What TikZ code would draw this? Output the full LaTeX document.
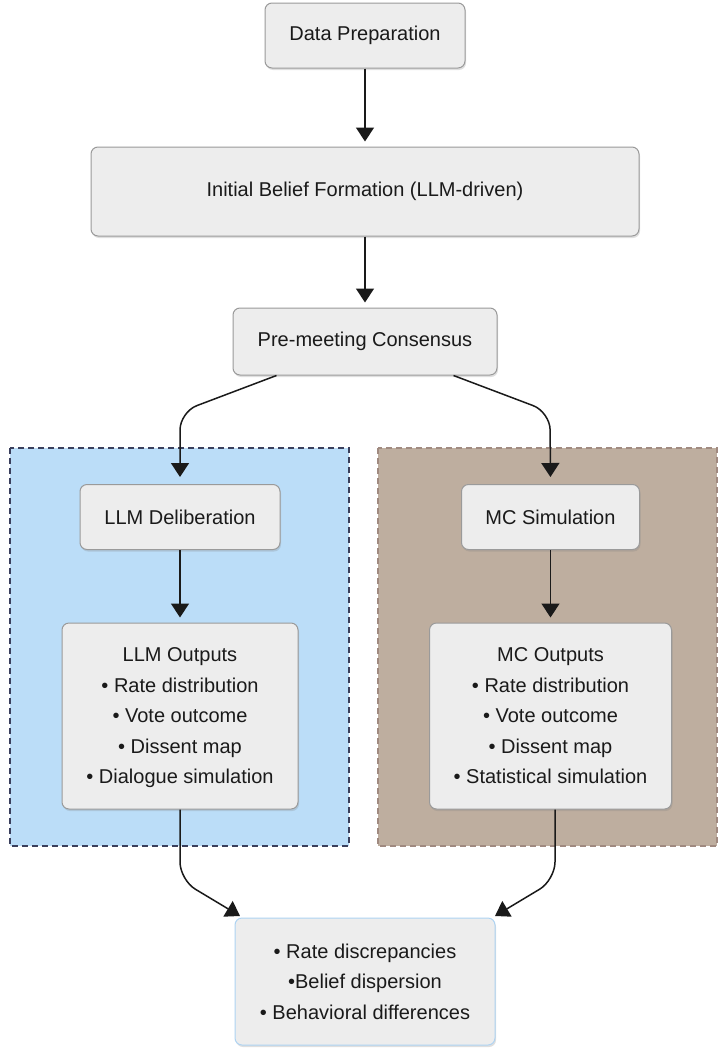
\documentclass[tikz,border=0pt]{standalone}
\usepackage{fontspec}
\setmainfont{Liberation Sans}
\usetikzlibrary{arrows.meta,shadows}
\definecolor{boxfill}{HTML}{EDEDED}
\definecolor{boxline}{HTML}{9A9A9A}
\definecolor{llmfill}{HTML}{BBDDF8}
\definecolor{llmline}{HTML}{3A3F5C}
\definecolor{mcfill}{HTML}{BEAE9F}
\definecolor{mcline}{HTML}{A08A80}
\definecolor{resline}{HTML}{AED3F2}
\definecolor{ink}{HTML}{1A1A1A}
\begin{document}
\begin{tikzpicture}[x=1pt,y=-1pt]
\tikzstyle{every node}+=[inner sep=0pt,text=ink,font=\fontsize{20}{30.5}\selectfont]
\tikzstyle{stepbox}=[draw=boxline,fill=boxfill,line width=1pt,rounded corners=7pt,align=center,
  drop shadow={shadow xshift=1pt,shadow yshift=-2pt,opacity=0.25}]
\tikzstyle{flow}=[draw=ink,line width=1.5pt,-{Triangle[width=18pt,length=14pt]},rounded corners=18pt]
\useasboundingbox (0,0) rectangle (718,1052);
% the two branches
\draw [fill=llmfill,draw=llmline,line width=1.2pt,dash pattern=on 6pt off 4pt] (10,448) rectangle (349,846);
\draw [fill=mcfill,draw=mcline,line width=1.2pt,dash pattern=on 6pt off 4pt] (378,448) rectangle (717,846);
% steps
\node [stepbox,minimum width=200pt,minimum height=65pt] (prep) at (365,35.5) {Data Preparation};
\node [stepbox,minimum width=548pt,minimum height=89pt] (belief) at (365,191.5) {Initial Belief Formation (LLM-driven)};
\node [stepbox,minimum width=264pt,minimum height=67pt] (pre) at (365,341.5) {Pre-meeting Consensus};
\node [stepbox,minimum width=200pt,minimum height=65pt] (llmdel) at (180,517) {LLM Deliberation};
\node [stepbox,minimum width=178pt,minimum height=65pt] (mcsim) at (550.5,517) {MC Simulation};
\node [stepbox,minimum width=236pt,minimum height=186pt] (llmout) at (180,716) {\rule{0pt}{18pt}LLM Outputs\\ \textbullet\ Rate distribution\\ \textbullet\ Vote outcome\\ \textbullet\ Dissent map\\ \textbullet\ Dialogue simulation};
\node [stepbox,minimum width=242pt,minimum height=186pt] (mcout) at (550.5,716) {\rule{0pt}{18pt}MC Outputs\\ \textbullet\ Rate distribution\\ \textbullet\ Vote outcome\\ \textbullet\ Dissent map\\ \textbullet\ Statistical simulation\vphantom{g}};
\node [stepbox,draw=resline,minimum width=260pt,minimum height=127pt] (result) at (365,981.5) {\textbullet\ Rate discrepancies\\ \textbullet Belief dispersion\\ \textbullet\ Behavioral differences};
% bends and free ends
\coordinate (lsplit) at (180,412);
\coordinate (rsplit) at (550,412);
\coordinate (ljoin) at (180,880);
\coordinate (rjoin) at (555,880);
\coordinate (lend) at (240,916);
\coordinate (rend) at (495,916);
% arrows
\draw [flow,shorten >=5pt] (prep) -- (belief);
\draw [flow,shorten >=5pt] (belief) -- (pre);
\draw [flow,shorten >=7pt] ([xshift=44pt]pre.south west) -- (lsplit) -- (llmdel.north);
\draw [flow,shorten >=7pt] ([xshift=-44pt]pre.south east) -- (rsplit) -- (mcsim.north);
\draw [flow,shorten >=5pt] (llmdel) -- (llmout);
\draw [flow,shorten >=5pt] (mcsim) -- (mcout);
\draw [flow] (llmout.south) -- (ljoin) -- (lend);
\draw [flow] ([xshift=4.5pt]mcout.south) -- (rjoin) -- (rend);
\end{tikzpicture}
\end{document}
